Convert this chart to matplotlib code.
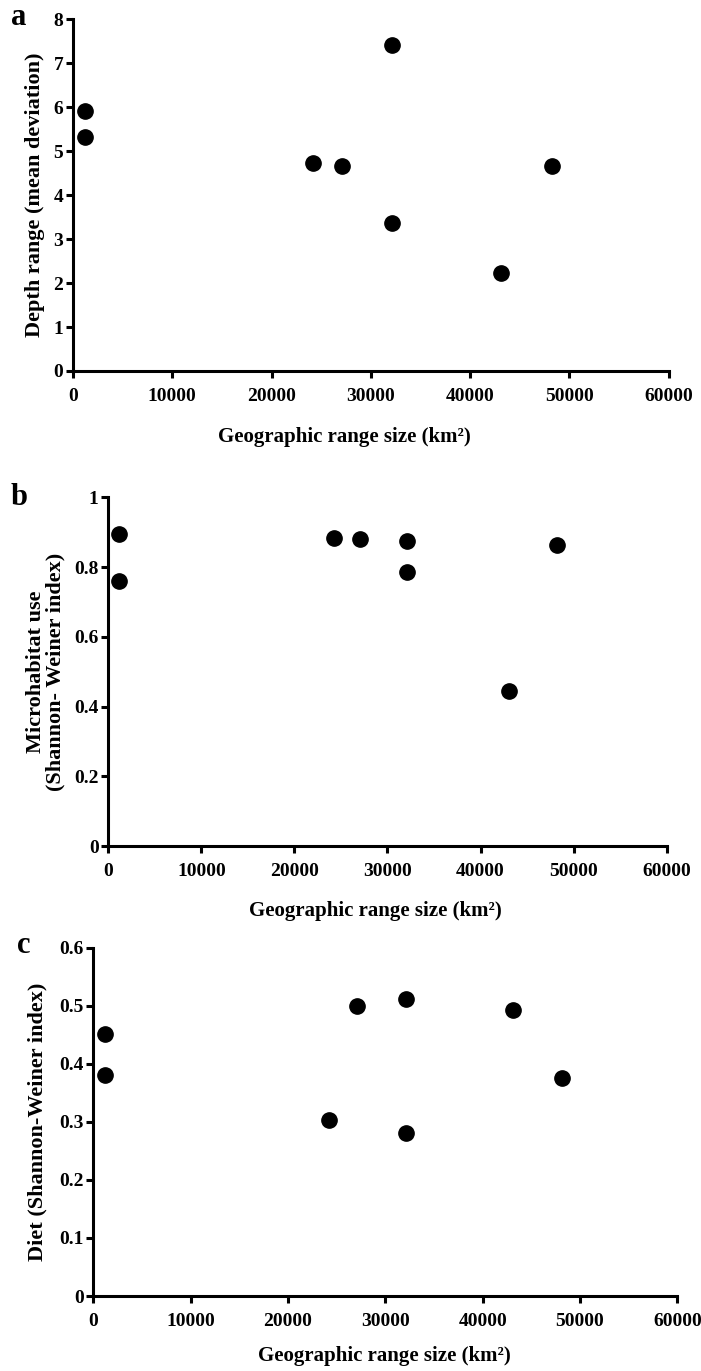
import matplotlib
matplotlib.use("Agg")
import matplotlib.pyplot as plt

plt.rcParams['font.family'] = ['Liberation Serif', 'DejaVu Serif']
plt.rcParams['font.weight'] = 'bold'

# Data
range_size = [1200, 1200, 24200, 27100, 32100, 32100, 43100, 48200]
depth_range = [5.92, 5.32, 4.73, 4.67, 7.42, 3.36, 2.23, 4.67]
range_size_b = [1200, 1200, 24200, 27100, 32100, 32100, 43100, 48200]
microhabitat = [0.894, 0.761, 0.882, 0.880, 0.875, 0.785, 0.444, 0.863]
range_size_c = [1200, 1200, 24200, 27100, 32100, 32100, 43100, 48200]
diet = [0.451, 0.381, 0.303, 0.499, 0.512, 0.281, 0.492, 0.375]

x_ticks = [0, 10000, 20000, 30000, 40000, 50000, 60000]
a_yticks = [0, 1, 2, 3, 4, 5, 6, 7, 8]
b_yticks = [0, 0.2, 0.4, 0.6, 0.8, 1]
b_yticklabels = ['0', '0.2', '0.4', '0.6', '0.8', '1']
c_yticks = [0, 0.1, 0.2, 0.3, 0.4, 0.5, 0.6]
c_yticklabels = ['0', '0.1', '0.2', '0.3', '0.4', '0.5', '0.6']

xlabel = 'Geographic range size (km²)'

fig = plt.figure(figsize=(7.01, 13.71), dpi=100)

ax_a = fig.add_axes([0.104, 0.7294, 0.850, 0.2567])
ax_b = fig.add_axes([0.1545, 0.3829, 0.7965, 0.2544])
ax_c = fig.add_axes([0.1331, 0.0547, 0.8331, 0.2540])

tfs = 14
lfs = 15
yfs = 16

def style(ax, yticks, yticklabels, ylim):
    for s in ['top', 'right']:
        ax.spines[s].set_visible(False)
    for s in ['left', 'bottom']:
        ax.spines[s].set_linewidth(2.2)
        ax.spines[s].set_color('black')
    ax.set_xlim(0, 60000)
    ax.set_ylim(*ylim)
    ax.set_xticks(x_ticks)
    ax.set_xticklabels([str(t) for t in x_ticks], fontsize=tfs, fontweight='bold')
    ax.set_yticks(yticks)
    ax.set_yticklabels(yticklabels, fontsize=tfs, fontweight='bold')
    ax.tick_params(axis='both', direction='out', length=5, width=2.2, colors='black')
    ax.tick_params(axis='x', pad=7)
    ax.tick_params(axis='y', pad=2)

ax_a.scatter(range_size, depth_range, s=11**2, color='black', zorder=3, clip_on=False)
style(ax_a, a_yticks, [str(t) for t in a_yticks], (0, 8))
ax_a.set_xlabel(xlabel, fontsize=lfs, fontweight='bold', labelpad=16)
ax_a.xaxis.label.set_x(0.455)
ax_a.set_ylabel('Depth range (mean deviation)', fontsize=yfs, fontweight='bold', labelpad=6)

ax_b.scatter(range_size_b, microhabitat, s=11**2, color='black', zorder=3, clip_on=False)
style(ax_b, b_yticks, b_yticklabels, (0, 1))
ax_b.set_xlabel(xlabel, fontsize=lfs, fontweight='bold', labelpad=15)
ax_b.xaxis.label.set_x(0.478)
ax_b.set_ylabel('Microhabitat use\n(Shannon- Weiner index)', fontsize=yfs, fontweight='bold',
                labelpad=6, linespacing=1.0)

ax_c.scatter(range_size_c, diet, s=11**2, color='black', zorder=3, clip_on=False)
style(ax_c, c_yticks, c_yticklabels, (0, 0.6))
ax_c.set_xlabel(xlabel, fontsize=lfs, fontweight='bold', labelpad=12)
ax_c.xaxis.label.set_x(0.498)
ax_c.set_ylabel('Diet (Shannon-Weiner index)', fontsize=yfs, fontweight='bold', labelpad=8)

fig.text(11/701, 1 - 25/1371, 'a', fontsize=22, fontweight='bold', va='baseline')
fig.text(11/701, 1 - 505/1371, 'b', fontsize=22, fontweight='bold', va='baseline')
fig.text(17/701, 1 - 953/1371, 'c', fontsize=22, fontweight='bold', va='baseline')

fig.savefig('out.png', dpi=100)
